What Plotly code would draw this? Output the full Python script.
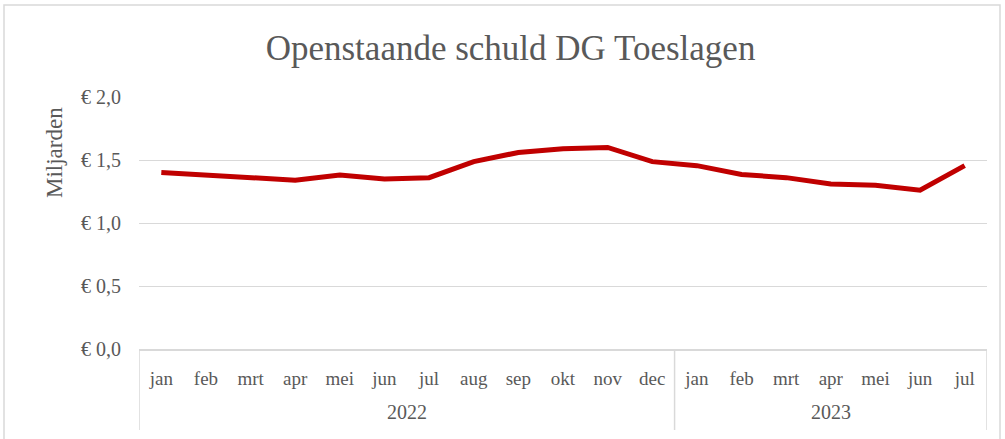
import plotly.graph_objects as go

years = ["2022"] * 12 + ["2023"] * 7
months = ["jan", "feb", "mrt", "apr", "mei", "jun", "jul", "aug", "sep", "okt", "nov", "dec",
          "jan", "feb", "mrt", "apr", "mei", "jun", "jul"]
schuld = [1.40, 1.38, 1.355, 1.34, 1.38, 1.35, 1.36, 1.487, 1.56, 1.59, 1.60, 1.487,
          1.455, 1.385, 1.36, 1.31, 1.30, 1.26, 1.455]
y_ticks = [0.0, 0.5, 1.0, 1.5, 2.0]

font_family = "Liberation Serif, DejaVu Serif, serif"
grey = "#595959"
grid = "#d9d9d9"

W, H = 1005, 439
T, B, L, R = 97, 90, 139, 18
ph = H - T - B  # plot height in px

def py(y_px):
    """paper y for a pixel row (from top)"""
    return (H - B - y_px) / ph

def px(x_px):
    return (x_px - L) / (W - L - R)

# unique category keys (month + year), labelled with the month only
keys = [f"{m} {y}" for m, y in zip(months, years)]
year_names = sorted(set(years))
year_counts = [years.count(y) for y in year_names]
year_centers, bounds, start = [], [-0.5], 0
for c in year_counts:
    year_centers.append(start + (c - 1) / 2)
    start += c
    bounds.append(start - 0.5)

fig = go.Figure()
fig.add_trace(go.Scatter(
    x=keys, y=schuld, mode="lines",
    line=dict(color="#c00000", width=5),
    hoverinfo="skip", showlegend=False,
))

shapes = [dict(type="line", xref="x", yref="paper", x0=b, x1=b, y0=0, y1=py(430),
               line=dict(color=grid, width=1.5)) for b in bounds]
shapes.append(dict(type="rect", xref="paper", yref="paper", x0=px(4), x1=px(1000),
                   y0=py(460), y1=py(5), line=dict(color="#d9d9d9", width=1.5)))

annotations = [dict(text="Miljarden", xref="paper", yref="paper", x=px(54), y=py(153),
                    textangle=-90, showarrow=False, xanchor="center", yanchor="middle",
                    font=dict(size=23, color=grey))]
for name, c in zip(year_names, year_centers):
    annotations.append(dict(text=name, xref="x", yref="paper", x=c, y=py(412),
                            showarrow=False, xanchor="center", yanchor="middle",
                            font=dict(size=20, color=grey)))

fig.update_layout(
    width=W, height=H,
    margin=dict(l=L, r=R, t=T, b=B),
    paper_bgcolor="white", plot_bgcolor="white",
    font=dict(family=font_family, color=grey, size=16),
    title=dict(text="Openstaande schuld DG Toeslagen", x=0.508, xanchor="center",
               y=1 - 48 / H, yanchor="middle",
               font=dict(family=font_family, size=35, color=grey)),
    shapes=shapes,
    annotations=annotations,
    yaxis=dict(
        range=[0, 2.0], tickvals=y_ticks,
        ticktext=[f"€ {v:.1f}".replace(".", ",") for v in y_ticks],
        showgrid=True, gridcolor=grid, gridwidth=1, zeroline=False,
        ticks="", ticklabelstandoff=17, tickfont=dict(size=20, color=grey),
    ),
    xaxis=dict(
        type="category", range=[-0.5, len(keys) - 0.5], tickvals=keys, ticktext=months,
        showgrid=False, showline=True, linecolor=grid, linewidth=1.5,
        ticks="", ticklabelstandoff=11, tickfont=dict(size=19, color=grey),
    ),
)

fig.write_html("out.html", config={"displayModeBar": False},
               post_script="document.body.style.margin='0';")
